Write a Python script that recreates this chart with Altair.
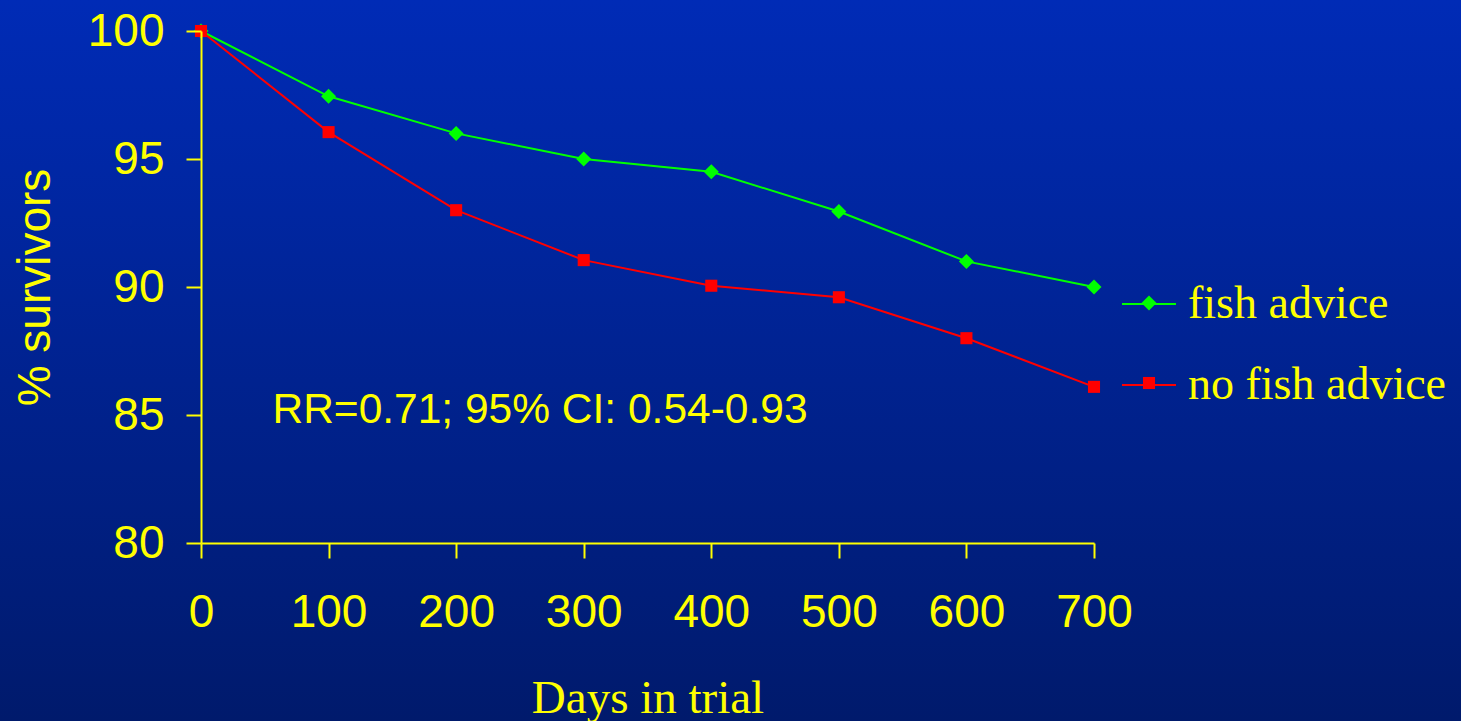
import altair as alt
import pandas as pd

# ---- data ----
days = [0, 100, 200, 300, 400, 500, 600, 700]
fish_advice = [100.0, 97.45, 96.0, 95.0, 94.5, 92.95, 91.0, 90.0]
no_fish_advice = [100.0, 96.05, 93.0, 91.05, 90.05, 89.6, 88.0, 86.1]
series_names = ["fish advice", "no fish advice"]
series_colors = ["#00ff00", "#ff0000"]
# diamond and square markers (custom paths in the unit box)
series_shapes = ["M0,-1.12L1.12,0L0,1.12L-1.12,0Z", "M-0.9,-0.9H0.9V0.9H-0.9Z"]
x_ticks = [0, 100, 200, 300, 400, 500, 600, 700]
y_ticks = [80, 85, 90, 95, 100]
annotation_text = ["RR=0.71; 95% CI: 0.54-0.93"]
annotation_x = [56]
annotation_y = [84.7]

df = pd.DataFrame({
    "day": days + days,
    "pct": fish_advice + no_fish_advice,
    "series": [series_names[0]] * len(days) + [series_names[1]] * len(days),
})
df["group"] = df["series"]
ann = pd.DataFrame({"x": annotation_x, "y": annotation_y, "t": annotation_text})
bg = pd.DataFrame({"a": [0]})

W, H = 893, 512
PL, PT, PR, PB = 201, 31, 367, 178
YELLOW = "#ffff00"

x_scale = alt.Scale(domain=[0, 700], nice=False, zero=False)
y_scale = alt.Scale(domain=[80, 100], nice=False, zero=False)

x_axis = alt.Axis(values=x_ticks, title="Days in trial", labelFlush=False,
                  labelPadding=32, titleFont="Liberation Serif", titleFontSize=47,
                  titleFontWeight="normal", titleY=169, titleBaseline="alphabetic",
                  zindex=2)
y_axis = alt.Axis(values=y_ticks, title="% survivors", labelFlush=False,
                  labelPadding=22, titleFont="Liberation Sans", titleFontSize=46,
                  titleFontWeight="normal", titleX=-166, titleY=H / 2,
                  titleBaseline="middle", titleAlign="center", zindex=2)

background = alt.Chart(bg).mark_rect(
    fill=alt.LinearGradient(
        gradient="linear",
        stops=[alt.GradientStop(color="#002bb6", offset=0),
               alt.GradientStop(color="#001a6c", offset=1)],
        x1=0, x2=0, y1=0, y2=1,
    )
).encode(
    x=alt.value(-PL), x2=alt.value(W + PR),
    y=alt.value(-PT), y2=alt.value(H + PB),
)

lines = alt.Chart(df).mark_line(strokeWidth=2).encode(
    x=alt.X("day:Q", scale=x_scale, axis=x_axis),
    y=alt.Y("pct:Q", scale=y_scale, axis=y_axis),
    stroke=alt.Stroke("series:N", scale=alt.Scale(range=series_colors),
                      legend=alt.Legend(orient="none", legendX=920, legendY=245,
                                        title=None, symbolType="stroke",
                                        symbolSize=2916, symbolStrokeWidth=2,
                                        labelFont="Liberation Serif", labelFontSize=46,
                                        labelColor=YELLOW, labelOffset=11, labelLimit=500,
                                        rowPadding=30, padding=0)),
)

pt_legend = alt.Legend(orient="none", legendX=941, legendY=265, title=None,
                       symbolSize=180, symbolStrokeWidth=0,
                       labelExpr="''", labelFontSize=10, labelOffset=0,
                       rowPadding=65, padding=0)

points = alt.Chart(df).mark_point(filled=True, opacity=1, size=180).encode(
    x="day:Q",
    y="pct:Q",
    fill=alt.Fill("group:N", scale=alt.Scale(range=series_colors), legend=pt_legend),
    shape=alt.Shape("group:N", scale=alt.Scale(range=series_shapes), legend=pt_legend),
)

text = alt.Chart(ann).mark_text(
    align="left", baseline="alphabetic", font="Liberation Sans", fontSize=42.5, color=YELLOW
).encode(x="x:Q", y="y:Q", text="t:N")

chart = alt.layer(background, lines, points, text).properties(
    width=W, height=H,
    autosize=alt.AutoSizeParams(type="none"),
    padding={"left": PL, "top": PT, "right": PR, "bottom": PB},
    background="#001f88",
).resolve_scale(
    stroke="independent", fill="independent", shape="independent"
).configure_view(stroke=None).configure_axis(
    domainColor=YELLOW, domainWidth=2, tickColor=YELLOW, tickWidth=2, tickSize=15,
    labelColor=YELLOW, labelFont="Liberation Sans", labelFontSize=46,
    titleColor=YELLOW, grid=False,
)

chart.save("out.html", embed_options={"renderer": "svg", "actions": False})
